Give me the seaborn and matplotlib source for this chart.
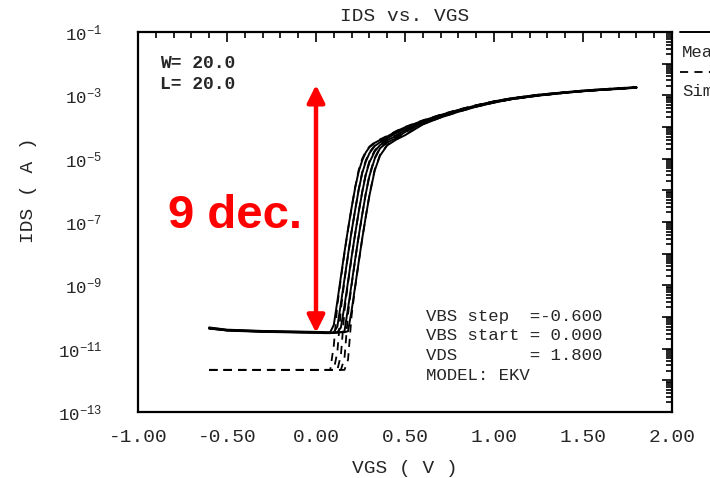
import numpy as np
import pandas as pd
import matplotlib
matplotlib.use("Agg")
import matplotlib.pyplot as plt
import seaborn as sns
from matplotlib.ticker import LogLocator, FuncFormatter, NullFormatter, MultipleLocator
from matplotlib.lines import Line2D

# ---------------- data (log10 of IDS in A) ----------------
vgs = [-0.60, -0.50, -0.40, -0.30, -0.20, -0.10, 0.00, 0.05, 0.08, 0.10, 0.12, 0.14,
       0.16, 0.18, 0.20, 0.22, 0.24, 0.26, 0.28, 0.30, 0.33, 0.36, 0.40, 0.45, 0.50,
       0.60, 0.70, 0.80, 0.90, 1.00, 1.10, 1.25, 1.40, 1.50, 1.60, 1.70, 1.80]

meas_vbs0 = [-10.33, -10.40, -10.42, -10.44, -10.45, -10.46, -10.47, -10.48, -10.48,
             -10.25, -9.50, -8.72, -7.95, -7.22, -6.55, -5.92, -5.40, -5.05, -4.80, -4.64,
             -4.50, -4.41, -4.30, -4.14, -4.01,
             -3.80, -3.62, -3.46, -3.32, -3.19, -3.09, -2.98, -2.90, -2.85, -2.81, -2.78, -2.74]
meas_vbs1 = [-10.36, -10.42, -10.44, -10.46, -10.47, -10.48, -10.49, -10.50, -10.50, -10.48,
             -10.30, -9.57, -8.80, -8.03, -7.29, -6.62, -5.98, -5.45, -5.09, -4.83,
             -4.60, -4.48, -4.36, -4.19, -4.05,
             -3.82, -3.64, -3.47, -3.33, -3.20, -3.10, -2.99, -2.91, -2.86, -2.82, -2.78, -2.75]
meas_vbs2 = [-10.35, -10.43, -10.45, -10.47, -10.48, -10.49, -10.50, -10.51, -10.51, -10.50,
             -10.48, -10.33, -9.65, -8.88, -8.10, -7.37, -6.68, -6.05, -5.50, -5.12,
             -4.77, -4.57, -4.42, -4.28, -4.10,
             -3.85, -3.66, -3.49, -3.34, -3.21, -3.11, -3.00, -2.91, -2.86, -2.82, -2.79, -2.75]
meas_vbs3 = [-10.34, -10.41, -10.43, -10.45, -10.46, -10.47, -10.48, -10.49, -10.50, -10.50,
             -10.49, -10.48, -10.45, -9.72, -8.95, -8.18, -7.44, -6.75, -6.10, -5.55,
             -5.00, -4.67, -4.49, -4.35, -4.16,
             -3.88, -3.68, -3.50, -3.35, -3.22, -3.12, -3.00, -2.92, -2.87, -2.83, -2.79, -2.76]
meas_vbs4 = [-10.37, -10.42, -10.44, -10.46, -10.47, -10.48, -10.49, -10.50, -10.50, -10.50,
             -10.49, -10.48, -10.48, -10.45, -9.80, -9.03, -8.26, -7.51, -6.82, -6.17,
             -5.37, -4.90, -4.58, -4.40, -4.26,
             -3.92, -3.70, -3.52, -3.36, -3.23, -3.12, -3.01, -2.92, -2.87, -2.83, -2.80, -2.76]

sim_vbs0 = [-11.67, -11.67, -11.67, -11.67, -11.67, -11.67, -11.67, -11.67, -11.67,
            -10.90, -9.62, -8.78, -7.98, -7.24, -6.55, -5.90, -5.36, -5.00, -4.77, -4.62,
            -4.48, -4.39, -4.28, -4.13, -4.00,
            -3.79, -3.61, -3.45, -3.31, -3.19, -3.09, -2.98, -2.90, -2.85, -2.81, -2.77, -2.74]
sim_vbs1 = [-11.67, -11.67, -11.67, -11.67, -11.67, -11.67, -11.67, -11.67, -11.67, -11.67,
            -11.10, -9.75, -8.85, -8.06, -7.30, -6.62, -5.96, -5.42, -5.05, -4.80,
            -4.58, -4.46, -4.34, -4.18, -4.04,
            -3.81, -3.63, -3.46, -3.32, -3.20, -3.10, -2.99, -2.91, -2.86, -2.82, -2.78, -2.75]
sim_vbs2 = [-11.67, -11.67, -11.67, -11.67, -11.67, -11.67, -11.67, -11.67, -11.67, -11.67,
            -11.67, -11.20, -9.80, -8.92, -8.12, -7.38, -6.68, -6.03, -5.47, -5.08,
            -4.74, -4.55, -4.40, -4.26, -4.09,
            -3.84, -3.65, -3.48, -3.34, -3.21, -3.11, -3.00, -2.91, -2.86, -2.82, -2.79, -2.75]
sim_vbs3 = [-11.67, -11.67, -11.67, -11.67, -11.67, -11.67, -11.67, -11.67, -11.67, -11.67,
            -11.67, -11.67, -11.30, -9.90, -9.00, -8.20, -7.45, -6.75, -6.08, -5.52,
            -4.97, -4.65, -4.47, -4.33, -4.15,
            -3.87, -3.67, -3.50, -3.35, -3.22, -3.12, -3.00, -2.92, -2.87, -2.83, -2.79, -2.76]
sim_vbs4 = [-11.67, -11.67, -11.67, -11.67, -11.67, -11.67, -11.67, -11.67, -11.67, -11.67,
            -11.67, -11.67, -11.67, -11.35, -9.95, -9.06, -8.27, -7.52, -6.82, -6.15,
            -5.34, -4.88, -4.56, -4.38, -4.24,
            -3.91, -3.70, -3.52, -3.36, -3.23, -3.12, -3.01, -2.92, -2.87, -2.83, -2.80, -2.76]

measured = [meas_vbs0, meas_vbs1, meas_vbs2, meas_vbs3, meas_vbs4]
simulated = [sim_vbs0, sim_vbs1, sim_vbs2, sim_vbs3, sim_vbs4]

arrow_top_exp = -2.67
arrow_bottom_exp = -10.50

x_ticks = [-1.00, -0.50, 0.00, 0.50, 1.00, 1.50, 2.00]
info_lines = ["VBS step  =-0.600", "VBS start = 0.000", "VDS       = 1.800", "MODEL: EKV"]

# ---------------- build tables ----------------
def to_frame(curves, kind):
    rows = []
    for i, c in enumerate(curves):
        for v, e in zip(vgs, c):
            rows.append({"VGS": v, "IDS": 10.0 ** e, "curve": f"{kind}{i}"})
    return pd.DataFrame(rows)

df_m = to_frame(measured, "m")
df_s = to_frame(simulated, "s")

# ---------------- style ----------------
sns.set_style("white")
mono = "Liberation Mono"
plt.rcParams["font.family"] = [mono, "DejaVu Sans Mono"]
plt.rcParams["mathtext.fontset"] = "custom"
plt.rcParams["mathtext.rm"] = mono
plt.rcParams["axes.unicode_minus"] = False

fig = plt.figure(figsize=(7.10, 4.78), dpi=100)
ax = fig.add_axes([138 / 710, 1 - 412 / 478, (672 - 138) / 710, (412 - 32) / 478])
ax.set_yscale("log")

sns.lineplot(data=df_s, x="VGS", y="IDS", units="curve", estimator=None, ax=ax,
             color="black", lw=1.3, linestyle=(0, (4.5, 3.5)), legend=False)
sns.lineplot(data=df_m, x="VGS", y="IDS", units="curve", estimator=None, ax=ax,
             color="black", lw=1.4, legend=False)

ax.set_xlim(-1.0, 2.0)
ax.set_ylim(1e-13, 1e-1)

# ticks
ax.xaxis.set_major_locator(MultipleLocator(0.5))
ax.xaxis.set_minor_locator(MultipleLocator(0.1))
ax.xaxis.set_major_formatter(FuncFormatter(lambda v, p: f"{v:.2f}"))
ax.yaxis.set_major_locator(LogLocator(base=10, numticks=30))
ax.yaxis.set_minor_locator(LogLocator(base=10, subs=np.arange(2, 10), numticks=30))
ax.yaxis.set_minor_formatter(NullFormatter())

def yfmt(v, p):
    e = int(round(np.log10(v)))
    if e % 2 != 0:
        return r"$\mathregular{10^{%d}}$" % e
    return ""
ax.yaxis.set_major_formatter(FuncFormatter(yfmt))

ax.tick_params(which="both", direction="in", top=True, right=True, color="black", width=1.2)
ax.tick_params(which="major", length=7)
ax.tick_params(which="minor", length=4)
ax.tick_params(axis="x", which="major", labelsize=14, pad=12)
ax.tick_params(axis="y", which="major", labelsize=12.5, pad=26)
for s in ax.spines.values():
    s.set_color("black")
    s.set_linewidth(1.6)

ax.set_title("IDS vs. VGS", fontsize=14, pad=8)
ax.set_xlabel("VGS ( V )", fontsize=14, labelpad=10)
ax.set_ylabel("IDS ( A )", fontsize=14)
ax.yaxis.set_label_coords(-0.19, 0.585)

# W / L text
ax.text(0.041, 0.905, "W= 20.0", transform=ax.transAxes, fontsize=13, fontweight="bold",
        ha="left", va="baseline")
ax.text(0.041, 0.850, "L= 20.0", transform=ax.transAxes, fontsize=13, fontweight="bold",
        ha="left", va="baseline")

# info block
for i, line in enumerate(info_lines):
    ax.text(0.540, (412 - (321 + 19.5 * i)) / 380, line, transform=ax.transAxes,
            fontsize=12.5, ha="left", va="baseline")

# red double arrow and annotation
ax.annotate("", xy=(0.0, 10 ** arrow_top_exp), xytext=(0.0, 10 ** arrow_bottom_exp),
            arrowprops=dict(arrowstyle="<|-|>", color="red", lw=3.2, mutation_scale=26,
                            shrinkA=0, shrinkB=0))
ax.text(-0.455, 10 ** -7.19, "9 dec.", color="red", fontsize=34, fontweight="bold",
        family="Liberation Sans", ha="center", va="baseline")

# legend fragment at the right edge (clipped by figure border)
fig.add_artist(Line2D([680 / 710, 1.05], [1 - 32 / 478] * 2, color="black", lw=1.4,
                      transform=fig.transFigure))
fig.text(682 / 710, 1 - 57 / 478, "Measured", fontsize=12.5, ha="left", va="baseline")
fig.add_artist(Line2D([680 / 710, 1.05], [1 - 72 / 478] * 2, color="black", lw=1.3,
                      linestyle=(0, (4.5, 3.5)), transform=fig.transFigure))
fig.text(682 / 710, 1 - 96 / 478, "Simulated", fontsize=12.5, ha="left", va="baseline")

fig.savefig("out.png", dpi=100, facecolor="white")
